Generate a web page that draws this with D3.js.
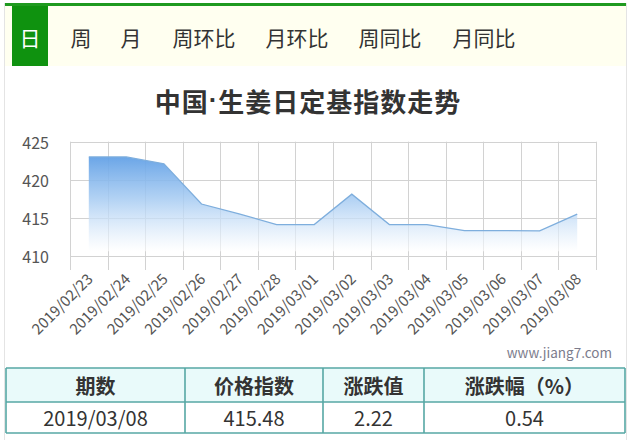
<!DOCTYPE html>
<html>
<head>
<meta charset="utf-8">
<script src="https://cdn.jsdelivr.net/npm/d3@7/dist/d3.min.js"></script>
<style>
  html, body { margin: 0; padding: 0; background: #ffffff; }
  svg { display: block; }
  text { font-family: "Microsoft YaHei", "Noto Sans CJK SC", "Noto Sans", sans-serif; }
</style>
</head>
<body>
<script>
// ---------- data ----------
const tabs = ["日", "周", "月", "周环比", "月环比", "周同比", "月同比"];
const titleParts = ["中国", "·", "生姜日定基指数走势"];
const dates = ["2019/02/23", "2019/02/24", "2019/02/25", "2019/02/26", "2019/02/27",
  "2019/02/28", "2019/03/01", "2019/03/02", "2019/03/03", "2019/03/04",
  "2019/03/05", "2019/03/06", "2019/03/07", "2019/03/08"];
const values = [423.0, 423.0, 422.1, 416.8, 415.5, 414.1, 414.1, 418.1, 414.1, 414.1,
  413.3, 413.3, 413.26, 415.48];
const yTicks = [410, 415, 420, 425];
const watermark = "www.jiang7.com";
const tableHeaders = ["期数", "价格指数", "涨跌值", "涨跌幅（%）"];
const tableRow = ["2019/03/08", "415.48", "2.22", "0.54"];

// ---------- layout ----------
const W = 630, H = 440;
const svg = d3.select("body").append("svg").attr("width", W).attr("height", H);

// panel side borders
svg.append("line").attr("x1", 4.5).attr("x2", 4.5).attr("y1", 3).attr("y2", H)
  .attr("stroke", "#e4e4e4").attr("stroke-width", 1);
svg.append("line").attr("x1", 626.5).attr("x2", 626.5).attr("y1", 3).attr("y2", H)
  .attr("stroke", "#e4e4e4").attr("stroke-width", 1);

// tab bar
svg.append("rect").attr("x", 5).attr("y", 6).attr("width", 621).attr("height", 60).attr("fill", "#fffff0");
svg.append("rect").attr("x", 5).attr("y", 3).attr("width", 621).attr("height", 3).attr("fill", "#1f9a1f");
svg.append("rect").attr("x", 12).attr("y", 6).attr("width", 36).attr("height", 60).attr("fill", "#0f920f");
const tabX = d3.scaleOrdinal().domain(tabs).range([30, 81, 131, 204, 297, 390, 484]);
svg.append("g").selectAll("text").data(tabs).join("text")
  .attr("x", d => tabX(d)).attr("y", 37)
  .attr("text-anchor", "middle").attr("dominant-baseline", "central")
  .attr("font-size", 21)
  .attr("fill", (d, i) => i === 0 ? "#ffffff" : "#333333")
  .text(d => d);

// title
const tt = svg.append("text").attr("x", 308).attr("y", 100)
  .attr("text-anchor", "middle").attr("dominant-baseline", "central")
  .attr("font-size", 26).attr("font-weight", "bold").attr("fill", "#333333")
  .attr("letter-spacing", 1);
tt.selectAll("tspan").data(titleParts).join("tspan")
  .style("font-family", (d, i) => i === 1 ? "'Liberation Sans', Arial, sans-serif" : null)
  .text(d => d);

// ---------- chart ----------
const pLeft = 70, pRight = 596, pTop = 141.7, pBottom = 255.7;
const x = d3.scaleBand().domain(dates).range([pLeft, pRight]);
const y = d3.scaleLinear().domain([410, 425]).range([pBottom, pTop]);
const cx = d => x(d) + x.bandwidth() / 2;

const defs = svg.append("defs");
const grad = defs.append("linearGradient").attr("id", "areaGrad")
  .attr("x1", 0).attr("y1", 0).attr("x2", 0).attr("y2", 1);
grad.append("stop").attr("offset", "0%").attr("stop-color", "#63a1e6").attr("stop-opacity", 0.95);
grad.append("stop").attr("offset", "45%").attr("stop-color", "#a6cbf2").attr("stop-opacity", 0.85);
grad.append("stop").attr("offset", "100%").attr("stop-color", "#ffffff").attr("stop-opacity", 0.6);

// grid
const grid = svg.append("g").attr("stroke", "#d2d2d2").attr("stroke-width", 1);
grid.selectAll("line.h").data(yTicks).join("line").attr("class", "h")
  .attr("x1", pLeft).attr("x2", pRight)
  .attr("y1", d => Math.round(y(d)) + 0.5).attr("y2", d => Math.round(y(d)) + 0.5);
const vx = dates.map(d => x(d)).concat([pRight]);
grid.selectAll("line.v").data(vx).join("line").attr("class", "v")
  .attr("x1", d => Math.round(d) + 0.5).attr("x2", d => Math.round(d) + 0.5)
  .attr("y1", pTop).attr("y2", 270);

// area
const area = d3.area().x(d => cx(d.date)).y0(y(410.6)).y1(d => y(d.v));
const series = dates.map((d, i) => ({date: d, v: values[i]}));
svg.append("path").datum(series).attr("d", area).attr("fill", "url(#areaGrad)");
const line = d3.line().x(d => cx(d.date)).y(d => y(d.v));
svg.append("path").datum(series).attr("d", line)
  .attr("fill", "none").attr("stroke", "#7eaedd").attr("stroke-width", 1.3);

// y labels
svg.append("g").selectAll("text").data(yTicks).join("text")
  .attr("x", 49).attr("y", d => y(d))
  .attr("text-anchor", "end").attr("dominant-baseline", "central")
  .attr("font-size", 16).attr("fill", "#555555")
  .text(d => d);

// x labels
svg.append("g").selectAll("text").data(dates).join("text")
  .attr("transform", d => `translate(${cx(d) + 5},280) rotate(-45)`)
  .attr("text-anchor", "end")
  .attr("font-size", 15).attr("fill", "#555555")
  .text(d => d);

// watermark
svg.append("text").attr("x", 612).attr("y", 358).attr("text-anchor", "end")
  .attr("font-size", 13.5).attr("fill", "#7c7c8c").text(watermark);

// ---------- table ----------
const colX = [6, 185, 323, 424, 625];
const rowY = [368, 402, 433];
const tcol = "#56a7a4";
svg.append("rect").attr("x", colX[0]).attr("y", rowY[0])
  .attr("width", colX[4] - colX[0]).attr("height", rowY[1] - rowY[0]).attr("fill", "#e9fafa");
const tg = svg.append("g").attr("stroke", tcol).attr("stroke-width", 1.6);
tg.selectAll("line.r").data(rowY).join("line").attr("class", "r")
  .attr("x1", colX[0]).attr("x2", colX[4]).attr("y1", d => d).attr("y2", d => d);
tg.selectAll("line.c").data(colX).join("line").attr("class", "c")
  .attr("x1", d => d).attr("x2", d => d).attr("y1", rowY[0]).attr("y2", rowY[2]);
svg.append("g").selectAll("text").data(tableHeaders).join("text")
  .attr("x", (d, i) => (colX[i] + colX[i + 1]) / 2).attr("y", (rowY[0] + rowY[1]) / 2)
  .attr("text-anchor", "middle").attr("dominant-baseline", "central")
  .attr("font-size", 20).attr("font-weight", "bold").attr("fill", "#333333")
  .text(d => d);
svg.append("g").selectAll("text").data(tableRow).join("text")
  .attr("x", (d, i) => (colX[i] + colX[i + 1]) / 2).attr("y", (rowY[1] + rowY[2]) / 2)
  .attr("text-anchor", "middle").attr("dominant-baseline", "central")
  .attr("font-size", 20).attr("fill", "#333333")
  .text(d => d);
</script>
</body>
</html>
